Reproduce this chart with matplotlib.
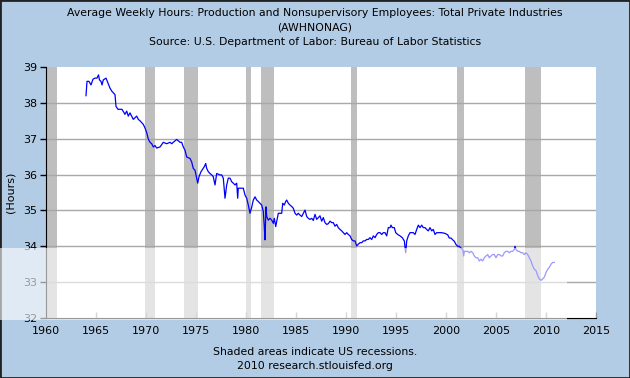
import numpy as np
import matplotlib
matplotlib.use("Agg")
import matplotlib.pyplot as plt
from matplotlib.patches import Rectangle

# datos (AWHNONAG, horas semanales)
years = [1964.0, 1964.1, 1964.3, 1964.5, 1964.7, 1964.9, 1965.1, 1965.25, 1965.35, 1965.5,
         1965.6, 1965.73, 1966.0, 1966.2, 1966.4, 1966.6, 1966.9, 1967.0, 1967.2, 1967.6,
         1967.9, 1968.07, 1968.23, 1968.4, 1968.73, 1969.07, 1969.23, 1969.4, 1969.57, 1969.73,
         1969.9, 1970.07, 1970.23, 1970.4, 1970.57, 1970.73, 1970.9, 1971.07, 1971.4, 1971.73,
         1972.07, 1972.4, 1972.57, 1972.73, 1973.07, 1973.4, 1973.57, 1973.73, 1973.9, 1974.07,
         1974.4, 1974.57, 1974.73, 1974.9, 1975.07, 1975.17, 1975.3, 1975.5, 1975.83, 1975.97,
         1976.07, 1976.23, 1976.4, 1976.57, 1976.73, 1976.9, 1977.07, 1977.23, 1977.4, 1977.57,
         1977.73, 1977.9, 1978.07, 1978.23, 1978.4, 1978.57, 1978.73, 1978.9, 1979.07, 1979.17,
         1979.23, 1979.4, 1979.57, 1979.73, 1979.9, 1980.07, 1980.23, 1980.4, 1980.57, 1980.73,
         1980.9, 1981.07, 1981.23, 1981.4, 1981.57, 1981.73, 1981.83, 1981.9, 1982.0, 1982.07,
         1982.23, 1982.4, 1982.57, 1982.73, 1982.83, 1982.97, 1983.07, 1983.23, 1983.4, 1983.57,
         1983.67, 1983.83, 1983.97, 1984.07, 1984.23, 1984.4, 1984.57, 1984.73, 1984.9, 1985.07,
         1985.23, 1985.4, 1985.57, 1985.73, 1985.9, 1986.07, 1986.23, 1986.4, 1986.57, 1986.73,
         1986.9, 1987.07, 1987.23, 1987.4, 1987.57, 1987.73, 1987.9, 1988.07, 1988.23, 1988.4,
         1988.57, 1988.73, 1988.9, 1989.07, 1989.23, 1989.4, 1989.57, 1989.73, 1989.9, 1990.07,
         1990.23, 1990.4, 1990.57, 1990.73, 1990.9, 1991.07, 1991.23, 1991.4, 1991.57, 1991.73,
         1991.9, 1992.07, 1992.23, 1992.4, 1992.57, 1992.73, 1992.9, 1993.07, 1993.23, 1993.4,
         1993.57, 1993.73, 1993.9, 1994.07, 1994.23, 1994.4, 1994.5, 1994.63, 1994.83, 1994.97,
         1995.17, 1995.4, 1995.63, 1995.83, 1995.97, 1996.07, 1996.23, 1996.4, 1996.57, 1996.73,
         1996.9, 1997.07, 1997.23, 1997.4, 1997.57, 1997.73, 1997.9, 1998.07, 1998.23, 1998.4,
         1998.57, 1998.73, 1998.9, 1999.07, 1999.23, 1999.57, 1999.9, 2000.17, 2000.33, 2000.5,
         2000.67, 2000.83, 2001.0, 2001.17, 2001.33, 2001.5, 2001.67, 2001.77, 2001.83, 2002.0,
         2002.17, 2002.33, 2002.5, 2002.67, 2002.83, 2003.0, 2003.17, 2003.33, 2003.5, 2003.67,
         2003.83, 2004.0, 2004.17, 2004.33, 2004.5, 2004.67, 2004.83, 2005.0, 2005.17, 2005.33,
         2005.5, 2005.67, 2005.83, 2006.0, 2006.17, 2006.33, 2006.5, 2006.67, 2006.83, 2006.9,
         2007.0, 2007.17, 2007.33, 2007.5, 2007.67, 2007.83, 2008.0, 2008.17, 2008.33, 2008.5,
         2008.67, 2008.83, 2009.0, 2009.17, 2009.33, 2009.5, 2009.67, 2009.83, 2010.0, 2010.17,
         2010.33, 2010.5, 2010.67, 2010.83]
hours = [38.2, 38.6, 38.6, 38.5, 38.66, 38.69, 38.69, 38.78, 38.64, 38.6,
         38.5, 38.64, 38.69, 38.55, 38.41, 38.32, 38.23, 37.9, 37.82, 37.82,
         37.68, 37.77, 37.63, 37.72, 37.54, 37.63, 37.54, 37.5, 37.45, 37.4,
         37.3, 37.17, 36.99, 36.9, 36.86, 36.77, 36.81, 36.74, 36.77, 36.9,
         36.86, 36.9, 36.86, 36.9, 36.98, 36.9, 36.9, 36.77, 36.68, 36.49,
         36.45, 36.35, 36.17, 36.12, 35.9, 35.76, 35.94, 36.08, 36.22, 36.31,
         36.17, 36.08, 36.03, 35.99, 35.94, 35.71, 36.03, 36.01, 35.99, 35.99,
         35.9, 35.34, 35.71, 35.9, 35.9, 35.8, 35.76, 35.71, 35.76, 35.34,
         35.62, 35.62, 35.62, 35.62, 35.43, 35.34, 35.15, 34.92, 35.09, 35.29,
         35.38, 35.29, 35.25, 35.2, 35.15, 34.97, 34.55, 34.18, 35.1, 34.83,
         34.73, 34.78, 34.73, 34.64, 34.78, 34.55, 34.69, 34.92, 34.92, 34.92,
         35.2, 35.15, 35.25, 35.29, 35.2, 35.15, 35.11, 35.06, 34.92, 34.87,
         34.92, 34.87, 34.83, 34.92, 35.01, 34.83, 34.78, 34.75, 34.78, 34.72,
         34.89, 34.75, 34.8, 34.85, 34.7, 34.8, 34.66, 34.61, 34.63, 34.7,
         34.66, 34.66, 34.56, 34.61, 34.52, 34.47, 34.43, 34.38, 34.33, 34.38,
         34.33, 34.29, 34.19, 34.15, 34.15, 34.01, 34.06, 34.1, 34.1, 34.15,
         34.15, 34.19, 34.19, 34.24, 34.19, 34.29, 34.24, 34.33, 34.38, 34.38,
         34.33, 34.38, 34.38, 34.29, 34.52, 34.52, 34.59, 34.52, 34.52, 34.38,
         34.33, 34.29, 34.24, 34.15, 33.82, 34.15, 34.29, 34.38, 34.38, 34.38,
         34.33, 34.47, 34.59, 34.52, 34.59, 34.52, 34.52, 34.47, 34.43, 34.52,
         34.43, 34.47, 34.33, 34.38, 34.38, 34.38, 34.36, 34.32, 34.23, 34.23,
         34.18, 34.14, 34.05, 34.0, 34.0, 33.95, 33.91, 33.73, 33.86, 33.86,
         33.86, 33.82, 33.86, 33.82, 33.73, 33.68, 33.68, 33.59, 33.64, 33.59,
         33.68, 33.73, 33.77, 33.68, 33.73, 33.77, 33.77, 33.68, 33.77, 33.77,
         33.73, 33.73, 33.82, 33.86, 33.86, 33.82, 33.86, 33.86, 33.91, 34.0,
         33.91, 33.86, 33.86, 33.82, 33.82, 33.77, 33.82, 33.77, 33.68, 33.59,
         33.45, 33.36, 33.32, 33.18, 33.09, 33.05, 33.09, 33.14, 33.27, 33.36,
         33.41, 33.5, 33.55, 33.55]

# recesiones (inicio, fin)
rec_start = [1960.1, 1969.85, 1973.75, 1979.95, 1981.45, 1990.45, 2001.05, 2007.85]
rec_end = [1961.1, 1970.85, 1975.2, 1980.5, 1982.8, 1991.1, 2001.8, 2009.45]

y_ticks = [32, 33, 34, 35, 36, 37, 38, 39]
x_ticks = [1960, 1965, 1970, 1975, 1980, 1985, 1990, 1995, 2000, 2005, 2010, 2015]

bg = '#b3cce5'
W, H = 630, 378

fig = plt.figure(figsize=(6.3, 3.78), dpi=100, facecolor=bg)
ax = fig.add_axes([46/W, 1 - 318/H, 550/W, 251/H])
ax.set_facecolor('white')

for s, e in zip(rec_start, rec_end):
    ax.axvspan(s, e, color='#bebebe', lw=0, zorder=1)

for t in y_ticks[1:-1]:
    ax.axhline(t, color='#a8a8a8', lw=1, zorder=2)

ax.plot(years, hours, color='#0000ff', lw=0.9, zorder=3)

ax.set_xlim(1960, 2015)
ax.set_ylim(32, 39)
ax.set_yticks(y_ticks)
ax.set_xticks(x_ticks)
ax.tick_params(axis='y', direction='out', length=4, width=1, color='black', labelsize=8, pad=2)
ax.tick_params(axis='x', direction='in', length=4, width=1, color='#999999', labelsize=8, pad=6)
ax.spines['top'].set_visible(False)
ax.spines['right'].set_visible(False)
ax.spines['left'].set_color('black')
ax.spines['bottom'].set_color('black')
ax.set_ylabel('(Hours)', fontsize=8, labelpad=6)

# titulos
fs = 7.8
fig.text(0.5, 1 - 13/H, 'Average Weekly Hours: Production and Nonsupervisory Employees: Total Private Industries',
         ha='center', va='center', fontsize=fs)
fig.text(0.5, 1 - 27.5/H, '(AWHNONAG)', ha='center', va='center', fontsize=fs)
fig.text(0.5, 1 - 42/H, 'Source: U.S. Department of Labor: Bureau of Labor Statistics',
         ha='center', va='center', fontsize=fs)
fig.text(0.5, 1 - 352/H, 'Shaded areas indicate US recessions.', ha='center', va='center', fontsize=fs)
fig.text(0.5, 1 - 366/H, '2010 research.stlouisfed.org', ha='center', va='center', fontsize=fs)

# borde
fig.patches.append(Rectangle((0, 0), 1, 1, transform=fig.transFigure, fill=False,
                             edgecolor='#222222', lw=2, zorder=4))
# franja clara de la marca de agua
fig.patches.append(Rectangle((0, 1 - 320/H), 567/W, 72/H, transform=fig.transFigure,
                             facecolor='white', alpha=0.6, lw=0, zorder=5))

fig.savefig('out.png', dpi=100, facecolor=bg)
